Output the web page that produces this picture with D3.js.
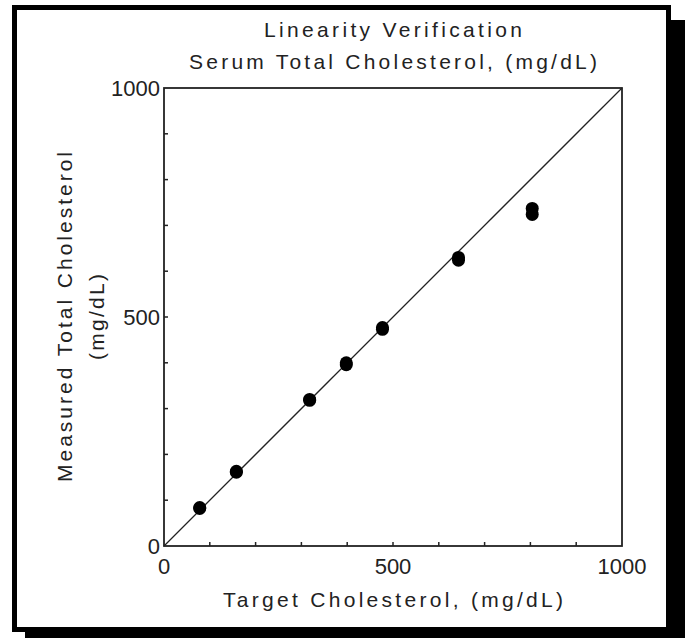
<!DOCTYPE html>
<html>
<head>
<meta charset="utf-8">
<script src="https://cdn.jsdelivr.net/npm/d3@7"></script>
<style>
  body { margin: 0; background: #fff; }
  text { font-family: "Liberation Sans", Arial, sans-serif; fill: #222; }
</style>
</head>
<body>
<div id="chart"></div>
<script>
// target vs measured (two replicates per level)
const targetValues = [78, 78, 158, 158, 318, 318, 398, 398, 477, 477, 643, 643, 804, 804];
const measuredValues = [82, 84, 161, 163, 318, 320, 396, 400, 473, 477, 624, 630, 724, 737];
const tickValues = [0, 500, 1000];
const minorTicks = d3.range(100, 1000, 100);
const titleLines = ["Linearity Verification", "Serum Total Cholesterol, (mg/dL)"];
const xTitle = "Target Cholesterol, (mg/dL)";
const yTitleLines = ["Measured Total Cholesterol", "(mg/dL)"];

const W = 685, H = 638;
const plot = { left: 164, top: 88, width: 458, height: 458 };

let svg = d3.select("#chart")
  .append("svg")
  .attr("width", W)
  .attr("height", H);

//Shadow + frame
svg.append("rect")
  .attr("x", 25).attr("y", 20)
  .attr("width", W - 25).attr("height", H - 20)
  .attr("fill", "#000");
svg.append("rect")
  .attr("x", 14.5).attr("y", 7.5)
  .attr("width", 654).attr("height", 622)
  .attr("fill", "#fff")
  .attr("stroke", "#000")
  .attr("stroke-width", 5);

let x = d3.scaleLinear().domain([0, 1000]).range([0, plot.width]);
let y = d3.scaleLinear().domain([0, 1000]).range([plot.height, 0]);

let g = svg.append("g")
  .attr("transform", "translate(" + plot.left + "," + plot.top + ")");

//plot box
g.append("rect")
  .attr("width", plot.width)
  .attr("height", plot.height)
  .attr("fill", "none")
  .attr("stroke", "#222")
  .attr("stroke-width", 1.8);

//inner minor ticks
g.append("g").selectAll("line")
  .data(minorTicks)
  .enter()
  .append("line")
  .attr("x1", (d) => x(d)).attr("x2", (d) => x(d))
  .attr("y1", plot.height).attr("y2", plot.height - 4)
  .attr("stroke", "#222").attr("stroke-width", 1.5);
g.append("g").selectAll("line")
  .data(minorTicks)
  .enter()
  .append("line")
  .attr("y1", (d) => y(d)).attr("y2", (d) => y(d))
  .attr("x1", 0).attr("x2", 4)
  .attr("stroke", "#222").attr("stroke-width", 1.5);

//tick labels
g.append("g").selectAll("text")
  .data(tickValues)
  .enter()
  .append("text")
  .attr("x", (d) => x(d))
  .attr("y", plot.height + 28)
  .attr("text-anchor", "middle")
  .style("font-size", "22px")
  .text((d) => d);
g.append("g").selectAll("text")
  .data(tickValues)
  .enter()
  .append("text")
  .attr("x", -4)
  .attr("y", (d) => y(d) + 8)
  .attr("text-anchor", "end")
  .style("font-size", "22px")
  .text((d) => d);

//identity line
g.append("line")
  .attr("x1", x(0)).attr("y1", y(0))
  .attr("x2", x(1000)).attr("y2", y(1000))
  .attr("stroke", "#222")
  .attr("stroke-width", 1.3);

//points
g.append("g").selectAll("ellipse")
  .data(targetValues)
  .enter()
  .append("ellipse")
  .attr("cx", (d) => x(d))
  .attr("cy", (d, i) => y(measuredValues[i]))
  .attr("rx", 6.5)
  .attr("ry", 6.5)
  .attr("fill", "#000");

//titles
svg.selectAll(".title")
  .data(titleLines)
  .enter()
  .append("text")
  .attr("class", "title")
  .attr("x", plot.left + plot.width / 2)
  .attr("y", (d, i) => 37 + i * 32)
  .attr("text-anchor", "middle")
  .attr("textLength", (d, i) => [258, 408][i])
  .attr("lengthAdjust", "spacing")
  .style("font-size", "21px")
  .text((d) => d);

svg.append("text")
  .attr("x", plot.left + plot.width / 2)
  .attr("y", 607)
  .attr("text-anchor", "middle")
  .attr("textLength", 340)
  .attr("lengthAdjust", "spacing")
  .style("font-size", "21px")
  .text(xTitle);

svg.selectAll(".ytitle")
  .data(yTitleLines)
  .enter()
  .append("text")
  .attr("class", "ytitle")
  .attr("transform", (d, i) =>
    "translate(" + (72 + i * 32) + "," + (plot.top + plot.height / 2) + ") rotate(-90)")
  .attr("text-anchor", "middle")
  .attr("textLength", (d, i) => [330, 86][i])
  .attr("lengthAdjust", "spacing")
  .style("font-size", "21px")
  .text((d) => d);
</script>
</body>
</html>
